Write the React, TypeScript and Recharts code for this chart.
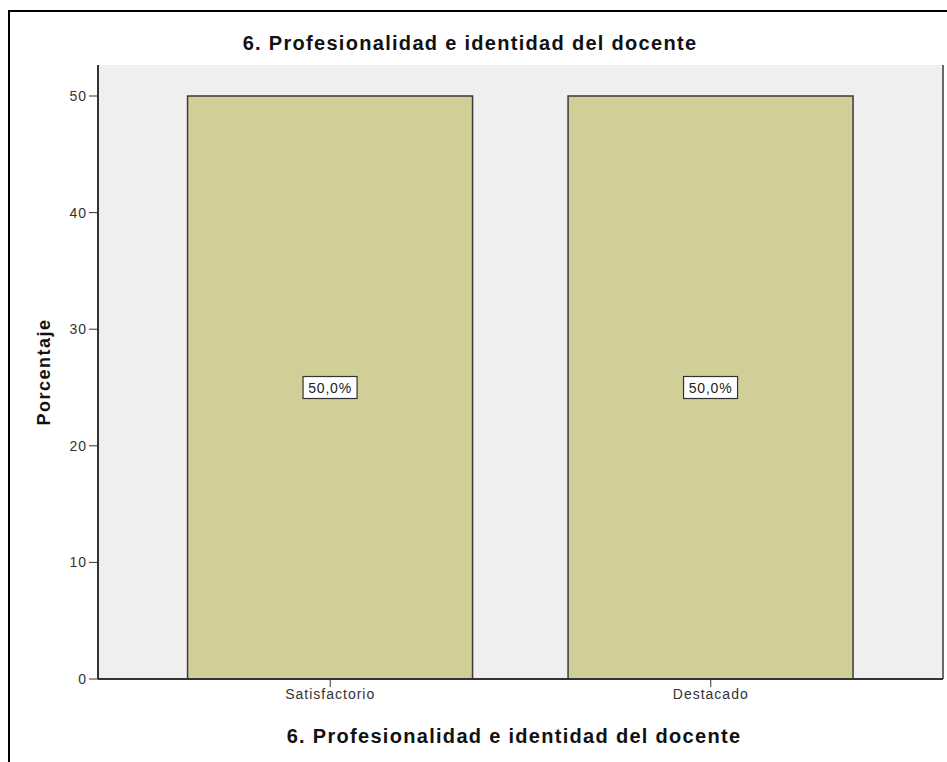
import React from 'react';
import { BarChart, Bar, XAxis, YAxis, CartesianGrid, LabelList } from 'recharts';

const categories = ['Satisfactorio', 'Destacado'];
const percentages = [50, 50];
const yTicks = [0, 10, 20, 30, 40, 50];

const chartTitle = '6. Profesionalidad e identidad del docente';
const xTitle = '6. Profesionalidad e identidad del docente';
const yTitle = 'Porcentaje';

const data = categories.map((name, i) => ({ name, value: percentages[i] }));

const FONT = '"Liberation Sans", Arial, sans-serif';

const PctLabel = (props: any) => {
  const { x, y, width, height, value } = props;
  const cx = x + width / 2;
  const cy = y + height / 2;
  const text = Number(value).toFixed(1).replace('.', ',') + '%';
  return (
    <g>
      <rect x={cx - 27} y={cy - 11} width={54} height={22} fill="#ffffff" stroke="#333333" strokeWidth={1.2} />
      <text x={cx} y={cy + 5} textAnchor="middle" fontSize={14} letterSpacing={0.8} fontFamily={FONT} fill="#222222">
        {text}
      </text>
    </g>
  );
};

const titleStyle: React.CSSProperties = {
  position: 'absolute',
  fontSize: 20,
  letterSpacing: 1.3,
  fontWeight: 'bold',
  color: '#111',
  whiteSpace: 'nowrap',
};

export default function App() {
  return (
    <div style={{ position: 'absolute', left: 0, top: 0, width: 947, height: 762, background: '#fff', fontFamily: FONT }}>
      {/* frame lines of the cropped output window */}
      <div style={{ position: 'absolute', left: 8, top: 10, width: 939, height: 2, background: '#000' }} />
      <div style={{ position: 'absolute', left: 8, top: 10, width: 2, height: 752, background: '#000' }} />

      <div style={{ ...titleStyle, left: 0, top: 32, width: 940, textAlign: 'center' }}>
        {chartTitle}
      </div>

      <BarChart
        width={947}
        height={762}
        data={data}
        margin={{ top: 65, right: 2, left: 0, bottom: 0 }}
        barCategoryGap="12.5%"
        style={{ position: 'absolute', left: 0, top: 0 }}
      >
        <CartesianGrid fill="#efefef" horizontal={false} vertical={false} />
        <XAxis
          xAxisId="top"
          orientation="top"
          dataKey="name"
          height={0}
          tick={false}
          tickLine={false}
          axisLine={{ stroke: '#8a8a8a', strokeWidth: 2 }}
        />
        <YAxis
          yAxisId="right"
          orientation="right"
          width={2}
          domain={[0, 52.66]}
          tick={false}
          tickLine={false}
          axisLine={{ stroke: '#6a6a6a', strokeWidth: 2 }}
        />
        <XAxis
          dataKey="name"
          height={83}
          padding={{ left: 42, right: 42 }}
          tickSize={8}
          tickLine={{ stroke: '#333' }}
          axisLine={{ stroke: '#333', strokeWidth: 2 }}
          tick={{ fontSize: 14, letterSpacing: 1, fill: '#333', fontFamily: FONT }}
        />
        <YAxis
          width={98}
          domain={[0, 52.66]}
          ticks={yTicks}
          tickSize={9}
          tickLine={{ stroke: '#333' }}
          axisLine={{ stroke: '#333', strokeWidth: 2 }}
          tick={{ fontSize: 14, letterSpacing: 1, fill: '#333', fontFamily: FONT }}
        />
        <Bar dataKey="value" fill="#d2ce98" stroke="#3a3a3a" strokeWidth={1.5} isAnimationActive={false}>
          <LabelList dataKey="value" content={PctLabel} />
        </Bar>
      </BarChart>

      <div style={{ ...titleStyle, left: 84, top: 725, width: 860, textAlign: 'center' }}>
        {xTitle}
      </div>
      <div
        style={{
          ...titleStyle,
          left: 44,
          top: 372,
          fontSize: 18,
          letterSpacing: 1.5,
          transform: 'translate(-50%, -50%) rotate(-90deg)',
        }}
      >
        {yTitle}
      </div>
    </div>
  );
}
